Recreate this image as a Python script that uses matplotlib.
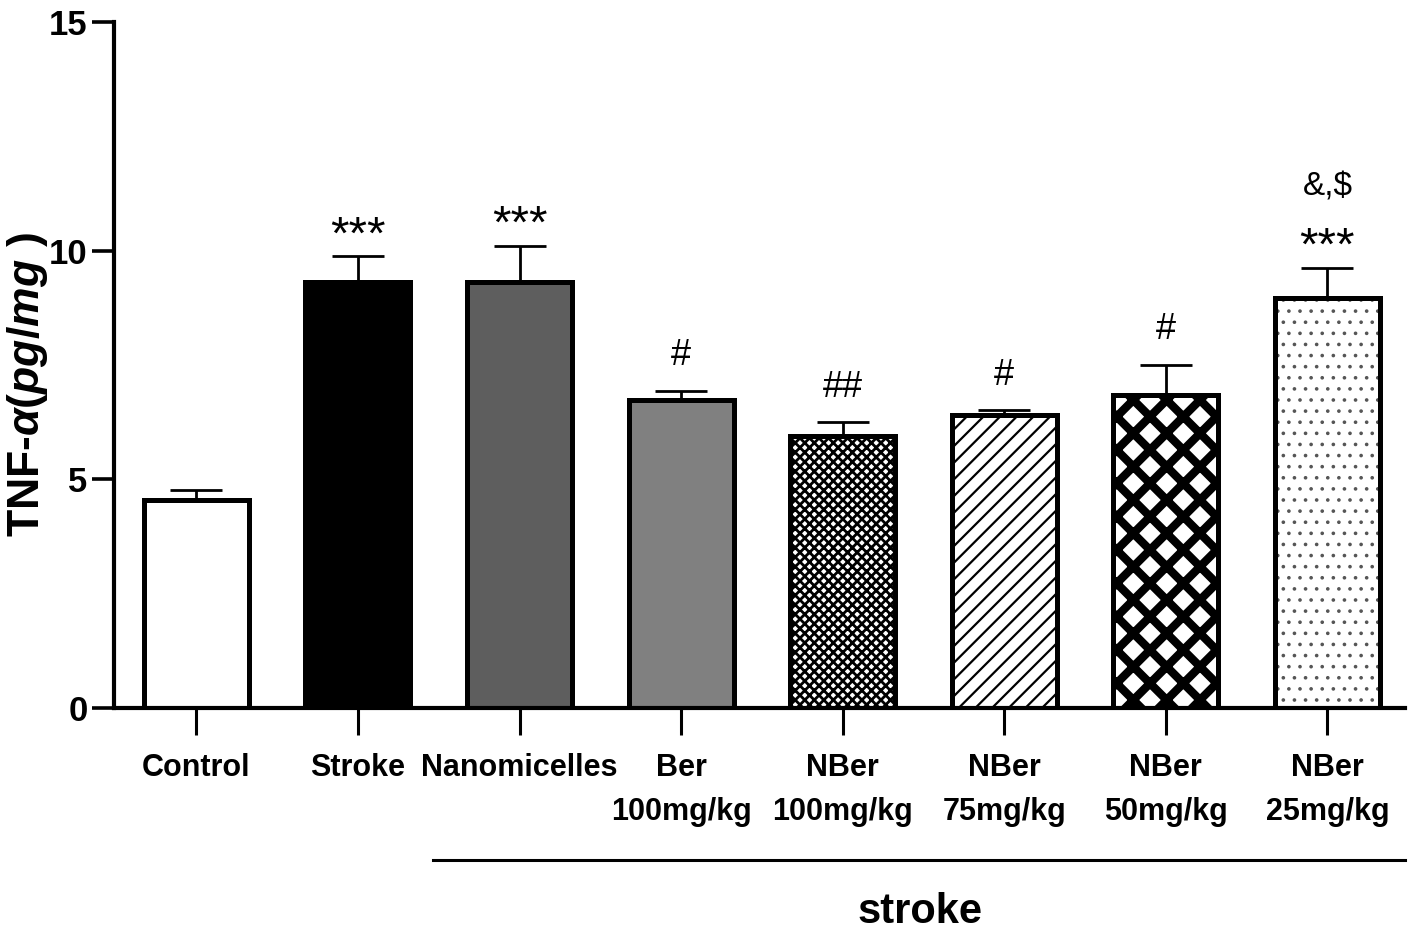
import matplotlib
matplotlib.use("Agg")
import numpy as np
from matplotlib import pyplot as plt

groups = ['Control', 'Stroke', 'Nanomicelles', 'Ber\n100mg/kg', 'NBer\n100mg/kg',
          'NBer\n75mg/kg', 'NBer\n50mg/kg', 'NBer\n25mg/kg']
tnf_mean = [4.55, 9.32, 9.32, 6.74, 5.95, 6.41, 6.85, 8.97]
tnf_sem = [0.22, 0.57, 0.79, 0.20, 0.30, 0.10, 0.66, 0.66]
sig_marks = ['', '***', '***', '#', '##', '#', '#', '***']
sig_marks_top = ['', '', '', '', '', '', '', r'&,\$']

# fill, hatch, hatch colour, hatch linewidth
bar_styles = [
    ('white', '', 'black', 1.0),
    ('black', '', 'black', 1.0),
    ('#5e5e5e', '', 'black', 1.0),
    ('#808080', '', 'black', 1.0),
    ('white', 'xxxxxxx', 'black', 1.0),
    ('white', '////', 'black', 0.8),
    ('white', 'xx', 'black', 3.0),
    ('white', '...', '#555555', 0.5),
]

plt.rcParams['font.family'] = ['Liberation Sans', 'DejaVu Sans']
plt.rcParams['mathtext.fontset'] = 'custom'
plt.rcParams['mathtext.it'] = 'Liberation Sans:italic:bold'
plt.rcParams['mathtext.rm'] = 'Liberation Sans:bold'

fig = plt.figure(figsize=(7.09, 4.68), dpi=200)
ax = fig.add_axes([0.0804, 0.2436, 0.9104, 0.7329])

x = np.arange(len(groups))
width = 0.65
for i, (face, hatch, hcol, hlw) in enumerate(bar_styles):
    with plt.rc_context({'hatch.linewidth': hlw}):
        ax.bar(x[i], tnf_mean[i], width, color=face, edgecolor=hcol, hatch=hatch,
               linewidth=0, zorder=2)
    ax.bar(x[i], tnf_mean[i], width, facecolor='none', edgecolor='black',
           linewidth=1.8, zorder=3)

ax.errorbar(x, tnf_mean, yerr=[np.zeros(len(x)), tnf_sem], fmt='none',
            ecolor='black', elinewidth=1.0, capsize=9.5, capthick=1.0, zorder=1)

for i in range(len(x)):
    top = tnf_mean[i] + tnf_sem[i]
    m = sig_marks[i]
    if m.startswith('*'):
        ax.annotate(m, (x[i], top), xytext=(0, 7), textcoords='offset points',
                    ha='center', va='center', fontsize=17)
    elif m:
        ax.annotate(m, (x[i], top), xytext=(0, 12.5), textcoords='offset points',
                    ha='center', va='center', fontsize=13)
    if sig_marks_top[i]:
        ax.annotate(sig_marks_top[i], (x[i], top), xytext=(0, 29), textcoords='offset points',
                    ha='center', va='center', fontsize=12)

ax.set_xlim(-0.51, 7.48)
ax.set_ylim(0, 15)
ax.set_yticks([0, 5, 10, 15])
ax.set_xticks(x)
ax.set_xticklabels(groups, fontsize=11, fontweight='bold', linespacing=1.6)
ax.tick_params(axis='x', length=9.7, width=1.1, pad=6.5)
ax.tick_params(axis='y', length=8, width=1.3, pad=1.5, labelsize=12.5)
for lab in ax.get_yticklabels():
    lab.set_fontweight('bold')

for side in ['top', 'right']:
    ax.spines[side].set_visible(False)
for side in ['left', 'bottom']:
    ax.spines[side].set_linewidth(1.5)

fig.text(0.0197, 0.589, r'TNF-$\alpha(pg/mg\ )$', rotation=90, ha='center', va='center',
         fontsize=16, fontweight='bold')

# bracket under the stroke-treated groups
ax.plot([0.247, 1.0], [-0.2216, -0.2216], transform=ax.transAxes, color='black',
        linewidth=1.1, clip_on=False)
fig.text(0.649, 0.026, 'stroke', ha='center', va='center', fontsize=15,
         fontweight='bold')

fig.savefig('out.png', dpi=200, facecolor='white')
